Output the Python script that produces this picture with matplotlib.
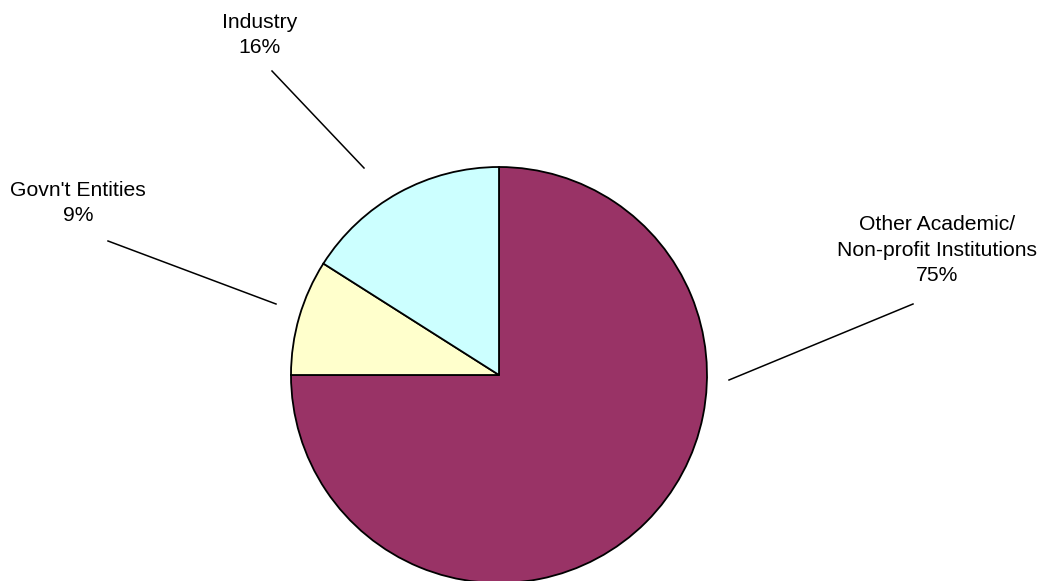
import matplotlib.pyplot as plt

# slice data (clockwise from 12 o'clock)
labels = ["Other Academic/\nNon-profit Institutions", "Govn't Entities", "Industry"]
shares = [75, 9, 16]
colors = ["#993366", "#FFFFCC", "#CCFFFF"]

# label placement in pixel coords (x, last-line baseline y from top), plus leader lines
label_pos = [(937, 281), (78, 221), (260, 53)]
leaders = [((913, 304), (729, 380)), ((108, 241), (276, 304)), ((272, 71), (364, 168))]

W, H = 1041, 581
fig = plt.figure(figsize=(W / 100, H / 100), dpi=100)
ax = fig.add_axes([0, 0, 1, 1])

ax.pie(shares, colors=colors, startangle=90, counterclock=False,
       center=(499, H - 375), radius=208, frame=True,
       wedgeprops=dict(edgecolor="black", linewidth=1.3))

for lab, pct, (x, y) in zip(labels, shares, label_pos):
    ax.text(x, H - y, f"{lab}\n{pct}%", ha="center", va="baseline",
            fontsize=15.2, family="Liberation Sans", linespacing=1.42)

for (x0, y0), (x1, y1) in leaders:
    ax.plot([x0, x1], [H - y0, H - y1], color="black", lw=1.1)

ax.set_xlim(0, W)
ax.set_ylim(0, H)
ax.set_aspect("equal")
ax.axis("off")

fig.savefig("out.png", dpi=100)
